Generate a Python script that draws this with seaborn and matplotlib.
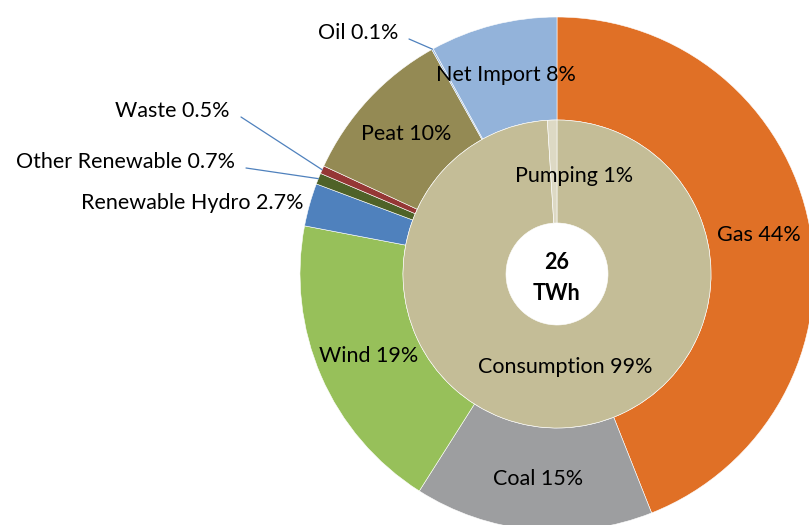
import numpy as np
import matplotlib.pyplot as plt
import seaborn as sns

# outer ring: generation sources (clockwise from 12 o'clock)
sources = ["Gas", "Coal", "Wind", "Renewable Hydro", "Other Renewable",
           "Waste", "Peat", "Oil", "Net Import"]
source_pct = [44, 15, 19, 2.7, 0.7, 0.5, 10, 0.1, 8]
source_lbl = ["44%", "15%", "19%", "2.7%", "0.7%", "0.5%", "10%", "0.1%", "8%"]
source_colors = ["#E07026", "#9D9EA0", "#97C05A", "#4F81BD", "#4F6228",
                 "#953735", "#948A54", "#8EB0D8", "#93B3DA"]

# inner ring: use
uses = ["Consumption", "Pumping"]
use_pct = [99, 1]
use_lbl = ["99%", "1%"]
use_colors = ["#C4BD97", "#DDD9C4"]

total_text = "26\nTWh"

sns.set_theme(style="white")
plt.rcParams['font.family'] = ['Lato', 'DejaVu Sans']
plt.rcParams['text.color'] = 'black'

fig = plt.figure(figsize=(8.09, 5.25), dpi=100)
ax = fig.add_axes([0, 0, 1, 1])

cx, cy = 557, 251
r_out, r_mid, r_in = 257, 154, 51

ax.pie(source_pct, colors=source_colors, startangle=90, counterclock=False,
       radius=r_out, center=(cx, cy),
       wedgeprops=dict(width=r_out - r_mid, edgecolor="white", linewidth=0.4))
ax.pie(use_pct, colors=use_colors, startangle=90, counterclock=False,
       radius=r_mid, center=(cx, cy),
       wedgeprops=dict(width=r_mid - r_in, edgecolor="white", linewidth=0.4))

fs = 15.5

# labels for the outer ring
cum = np.cumsum([0] + source_pct)
small = {"Oil": (398, 33), "Waste": (230, 111), "Other Renewable": (235, 162)}
for i, name in enumerate(sources):
    mid = (cum[i] + cum[i + 1]) / 2
    ang = np.deg2rad(90 - mid * 3.6)
    text = f"{name} {source_lbl[i]}"
    if name in small:
        tx, ty = small[name]
        ty = 525 - ty
        ex = cx + r_out * np.cos(ang)
        ey = cy + r_out * np.sin(ang)
        ax.plot([tx + 11, ex], [ty - 6, ey], color="#4F81BD", lw=0.9)
        ax.text(tx, ty, text, ha="right", va="center", fontsize=fs)
    elif name == "Renewable Hydro":
        rr = r_out + 6
        ax.text(cx + rr * np.cos(ang), cy + rr * np.sin(ang), text,
                ha="right", va="center", fontsize=fs)
    else:
        rr = (r_out + r_mid) / 2
        ax.text(cx + rr * np.cos(ang), cy + rr * np.sin(ang), text,
                ha="center", va="center", fontsize=fs)

# labels for the inner ring
cum_u = np.cumsum([0] + use_pct)
for i, name in enumerate(uses):
    mid = (cum_u[i] + cum_u[i + 1]) / 2
    ang = np.deg2rad(90 - mid * 3.6)
    rr = (r_mid + r_in) / 2
    x = cx + rr * np.cos(ang)
    y = cy + rr * np.sin(ang)
    if name == "Pumping":
        x += 20
        y -= 4
    else:
        x += 5
        y += 9
    ax.text(x, y, f"{name} {use_lbl[i]}", ha="center", va="center", fontsize=fs)

ax.text(cx, cy - 4, total_text, ha="center", va="center", fontsize=fs,
        fontweight="bold", linespacing=1.6)

ax.set_xlim(0, 809)
ax.set_ylim(0, 525)
ax.set_aspect("auto")
ax.axis("off")

fig.savefig("out.png", dpi=100)
